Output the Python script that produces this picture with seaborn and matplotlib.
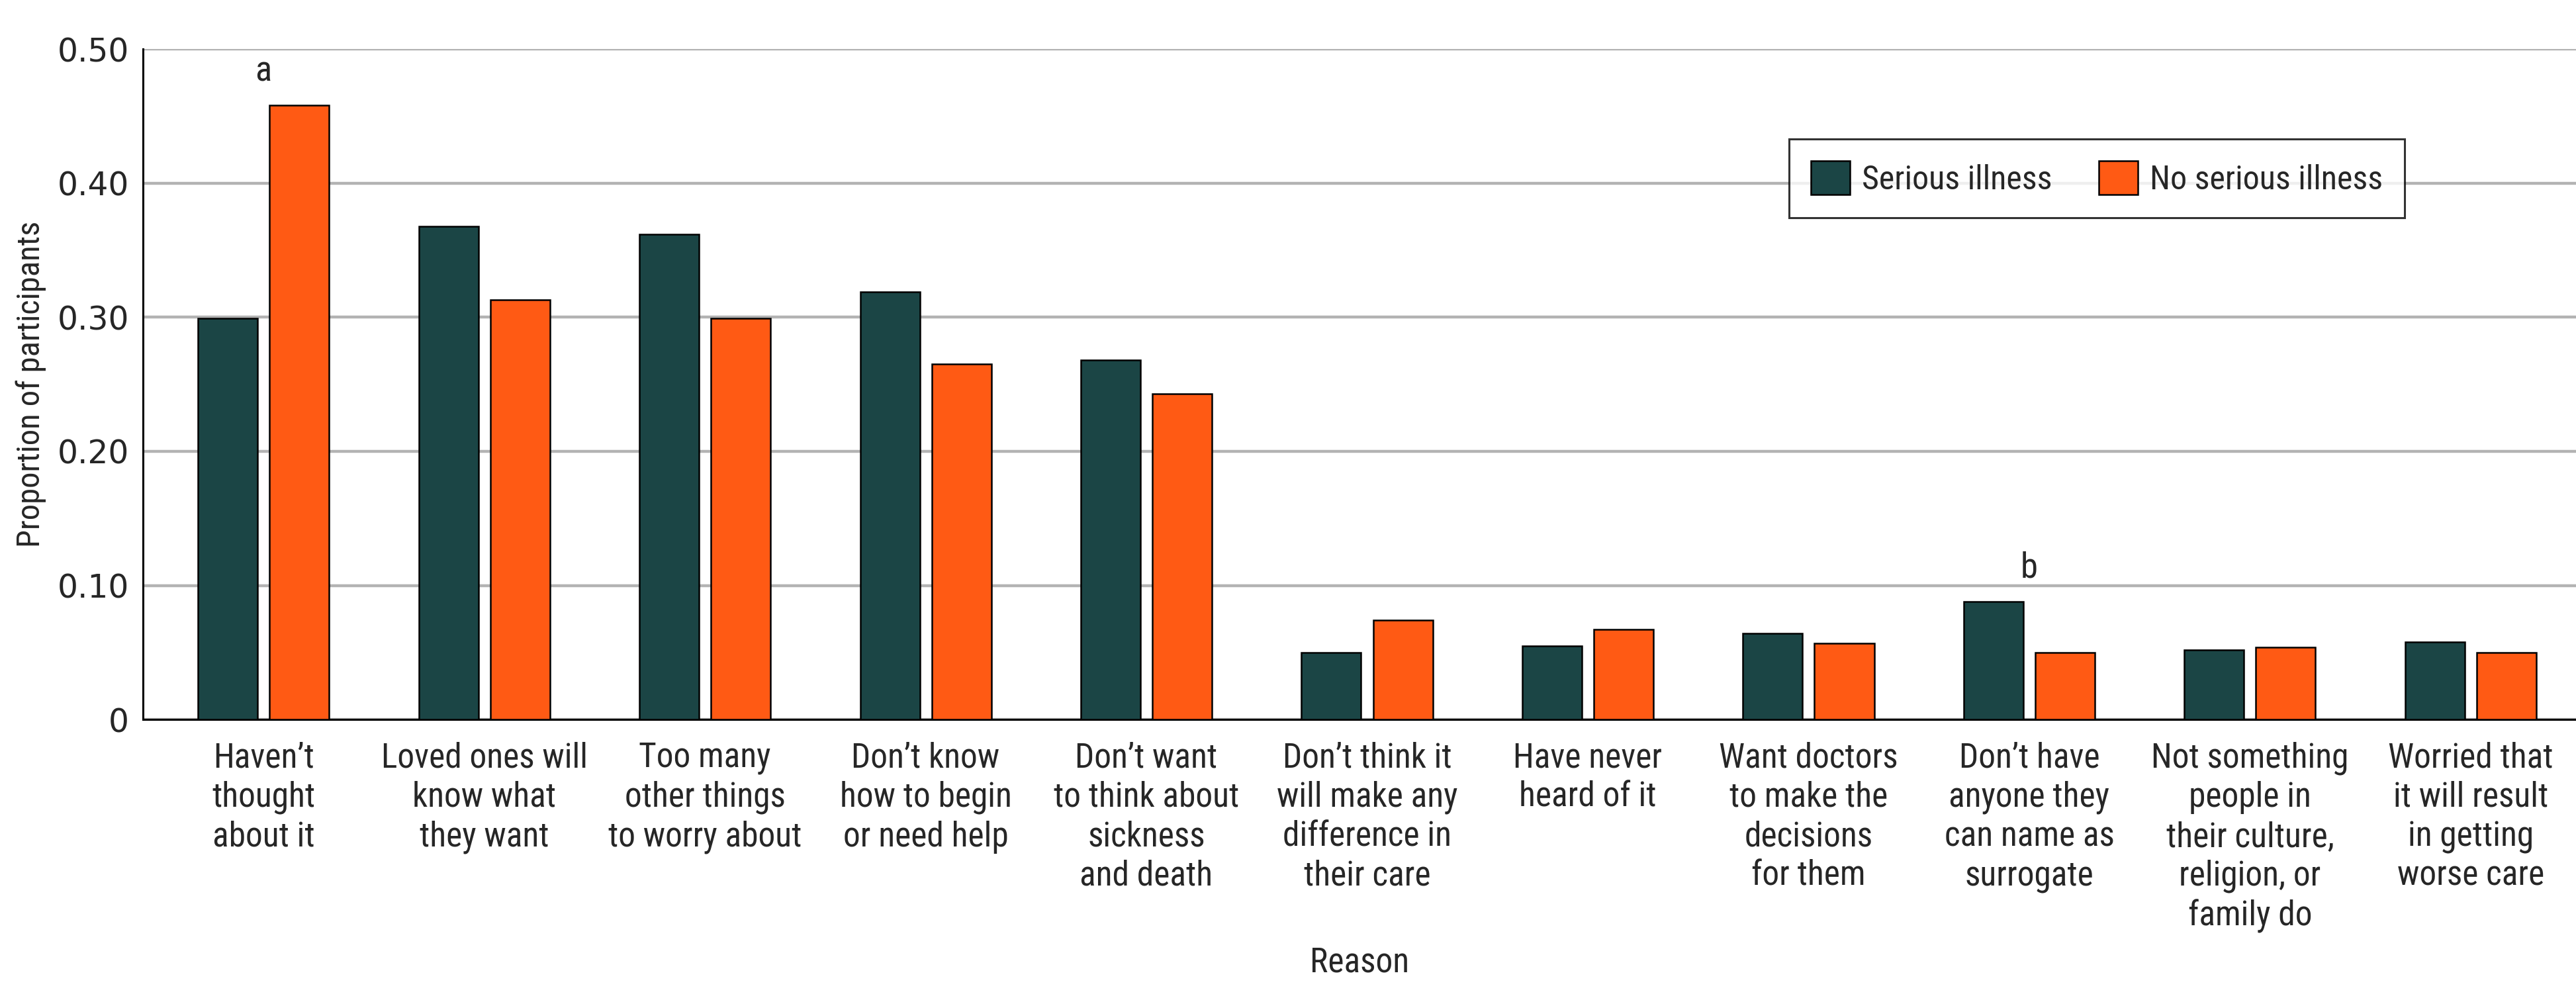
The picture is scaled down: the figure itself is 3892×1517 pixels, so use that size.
import matplotlib
matplotlib.use("Agg")
import matplotlib.pyplot as plt
from matplotlib import font_manager
import pandas as pd
import seaborn as sns


reasons = [
    "Haven’t\nthought\nabout it",
    "Loved ones will\nknow what\nthey want",
    "Too many\nother things\nto worry about",
    "Don’t know\nhow to begin\nor need help",
    "Don’t want\nto think about\nsickness\nand death",
    "Don’t think it\nwill make any\ndifference in\ntheir care",
    "Have never\nheard of it",
    "Want doctors\nto make the\ndecisions\nfor them",
    "Don’t have\nanyone they\ncan name as\nsurrogate",
    "Not something\npeople in\ntheir culture,\nreligion, or\nfamily do",
    "Worried that\nit will result\nin getting\nworse care",
]
serious = [0.299, 0.368, 0.362, 0.319, 0.268, 0.050, 0.055, 0.064, 0.088, 0.052, 0.058]
no_serious = [0.458, 0.313, 0.299, 0.265, 0.243, 0.074, 0.067, 0.057, 0.050, 0.054, 0.050]
groups = ["Serious illness", "No serious illness"]
colors = ["#1B4545", "#FF5A14"]
y_ticks = [0, 0.10, 0.20, 0.30, 0.40, 0.50]
y_tick_labels = ["0", "0.10", "0.20", "0.30", "0.40", "0.50"]
notes = [(0, "a", 0.476), (8, "b", 0.106)]


def pick_narrow_font():
    # look for some condensed face, otherwise fall back to plain DejaVu
    fonts = font_manager.fontManager.ttflist
    names = {f.name for f in fonts}
    for name in ["Liberation Sans Narrow", "Roboto Condensed", "Open Sans Condensed",
                 "Noto Sans Condensed", "DejaVu Sans Condensed"]:
        if name in names:
            return name, "normal", 18.5
    for f in fonts:
        if f.name in ("DejaVu Sans", "Noto Sans", "Open Sans") and str(f.stretch) in ("condensed", "semi-condensed", "extra-condensed"):
            return f.name, str(f.stretch), 18.5
    return "DejaVu Sans", "normal", 14.5


NARROW, STRETCH, FS = pick_narrow_font()

df = pd.DataFrame(
    {
        "reason": reasons * 2,
        "group": [groups[0]] * len(reasons) + [groups[1]] * len(reasons),
        "value": serious + no_serious,
    }
)

sns.set_theme(style="white")
plt.rcParams["font.family"] = [NARROW, "DejaVu Sans"]
plt.rcParams["font.stretch"] = STRETCH

fig = plt.figure(figsize=(19.46, 7.585), dpi=200)
ax = fig.add_axes([0.0555, 0.2834, 0.9445, 0.6676])

sns.barplot(
    data=df, x="reason", y="value", hue="group", hue_order=groups,
    palette=dict(zip(groups, colors)), saturation=1, width=0.648, gap=0.167,
    edgecolor="black", linewidth=0.9, ax=ax, zorder=3,
)

ax.set_ylim(0, 0.5)
ax.set_xlim(-0.546, 10.477)
ax.set_yticks(y_ticks)
ax.set_yticklabels(y_tick_labels, family="DejaVu Sans", stretch="normal", fontsize=17.5)
ax.yaxis.grid(True, color="#B3B3B3", linewidth=1.6, zorder=0)
ax.set_axisbelow(True)
for side in ["top", "right"]:
    ax.spines[side].set_visible(False)
for side in ["left", "bottom"]:
    ax.spines[side].set_color("black")
    ax.spines[side].set_linewidth(1.1)
ax.tick_params(axis="y", direction="out", length=5.5, width=1.0, color="black", pad=2)
ax.tick_params(axis="x", direction="out", length=6, width=0.6, color="black", pad=6, labelsize=FS)
for lbl in ax.get_xticklabels():
    lbl.set_linespacing(1.24)

ax.set_xlabel("Reason", fontsize=FS, labelpad=7)
ax.set_ylabel("Proportion of participants", fontsize=17.5, labelpad=6)

for idx, letter, yv in notes:
    ax.text(idx, yv, letter, ha="center", va="baseline", fontsize=19)

handles, labels = ax.get_legend_handles_labels()
leg = ax.legend(
    handles, labels, loc="upper left", bbox_to_anchor=(0.6766, 0.866), ncol=2,
    frameon=True, fancybox=False, edgecolor="black", fontsize=18,
    handlelength=1.18, handleheight=1.2, columnspacing=1.4, borderpad=0.66,
    handletextpad=0.36, borderaxespad=0,
)
leg.get_frame().set_linewidth(1.1)

fig.savefig("out.png", dpi=200)
